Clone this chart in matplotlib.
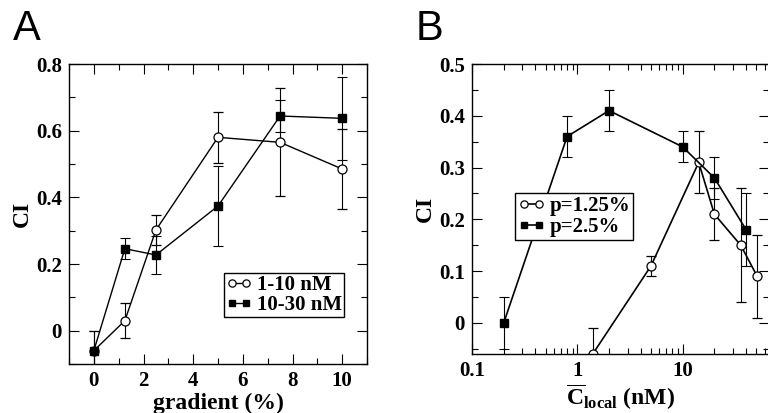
import matplotlib
matplotlib.use("Agg")
import matplotlib.pyplot as plt
from matplotlib.lines import Line2D
from matplotlib.ticker import MultipleLocator, LogLocator, NullFormatter

# panel A data
grad = [0, 1.25, 2.5, 5, 7.5, 10]
ci_low = [-0.06, 0.03, 0.302, 0.58, 0.565, 0.485]
err_low = [0.06, 0.053, 0.045, 0.077, 0.162, 0.12]
ci_high = [-0.06, 0.246, 0.227, 0.374, 0.644, 0.637]
err_high = [0.06, 0.032, 0.056, 0.121, 0.048, 0.124]

# panel B data
c_p125 = [1.4, 5.0, 14.2, 20, 35.6, 51]
ci_p125 = [-0.06, 0.11, 0.31, 0.21, 0.15, 0.09]
err_p125 = [0.05, 0.02, 0.06, 0.05, 0.11, 0.08]
c_p25 = [0.2, 0.8, 2.0, 10, 20, 40]
ci_p25 = [0.0, 0.36, 0.41, 0.34, 0.28, 0.18]
err_p25 = [0.05, 0.04, 0.04, 0.03, 0.04, 0.07]

a_yticks = [0, 0.2, 0.4, 0.6, 0.8]
a_yticklabels = ["0", "0.2", "0.4", "0.6", "0.8"]
b_xticks = [0.1, 1, 10]
b_xticklabels = ["0.1", "1", "10"]
b_yticks = [0, 0.1, 0.2, 0.3, 0.4, 0.5]
b_yticklabels = ["0", "0.1", "0.2", "0.3", "0.4", "0.5"]

plt.rcParams["font.family"] = "Liberation Serif"
plt.rcParams["font.weight"] = "bold"
plt.rcParams["axes.labelweight"] = "bold"
plt.rcParams["font.size"] = 15
plt.rcParams["axes.labelsize"] = 17
plt.rcParams["mathtext.fontset"] = "custom"
plt.rcParams["mathtext.rm"] = "Liberation Serif:bold"
plt.rcParams["mathtext.bf"] = "Liberation Serif:bold"
plt.rcParams["mathtext.it"] = "Liberation Serif:bold"

W, H = 768, 413
fig = plt.figure(figsize=(7.68, 4.13), dpi=100)
axA = fig.add_axes([69 / W, 1 - 364 / H, (367 - 69) / W, (364 - 64) / H])
axB = fig.add_axes([472 / W, 1 - 354 / H, (769 - 472) / W, (354 - 64) / H])

eb = dict(ecolor="black", elinewidth=0.8, capsize=3.3, capthick=0.8)
circ = dict(marker="o", ms=6.5, mfc="white", mec="black", mew=0.9, color="black")
sq = dict(marker="s", ms=5.8, mfc="black", mec="black", color="black")
leg_circ = dict(circ, ms=5.2)
leg_sq = dict(sq, ms=5.0)

# ---- A
axA.errorbar(grad, ci_low, yerr=err_low, lw=1.0, **circ, **eb)
axA.errorbar(grad, ci_high, yerr=err_high, lw=1.0, **sq, **eb)
axA.set_xlim(-1, 11)
axA.set_ylim(-0.1, 0.8)
axA.xaxis.set_major_locator(MultipleLocator(2))
axA.xaxis.set_minor_locator(MultipleLocator(1))
axA.set_yticks(a_yticks, a_yticklabels)
axA.yaxis.set_minor_locator(MultipleLocator(0.1))
axA.set_xlabel("gradient (%)", labelpad=1)
axA.set_ylabel("CI", labelpad=2)
hA = [Line2D([], [], lw=1.0, **leg_circ), Line2D([], [], lw=1.0, **leg_sq)]
axA.legend(hA, ["1-10 nM", "10-30 nM"], loc="lower right", bbox_to_anchor=(0.923, 0.157),
           numpoints=2, frameon=True, fancybox=False, edgecolor="black", framealpha=1,
           handlelength=1.3, handletextpad=0.2, borderpad=0.1, labelspacing=0.0,
           borderaxespad=0)
axA.text(13 / W, 1 - 40 / H, "A", transform=fig.transFigure, fontsize=30,
         family="Liberation Sans", weight="normal")

# ---- B
axB.errorbar(c_p125, ci_p125, yerr=err_p125, lw=1.2, **circ, **eb)
axB.errorbar(c_p25, ci_p25, yerr=err_p25, lw=1.2, **sq, **eb)
axB.set_xscale("log")
axB.set_xlim(0.1, 66)
axB.set_ylim(-0.06, 0.5)
axB.set_xticks(b_xticks, b_xticklabels)
axB.xaxis.set_minor_locator(LogLocator(base=10, subs=range(2, 10)))
axB.xaxis.set_minor_formatter(NullFormatter())
axB.set_yticks(b_yticks, b_yticklabels)
axB.yaxis.set_minor_locator(MultipleLocator(0.05))
axB.set_xlabel(r"$\overline{\mathrm{C}}_{\mathrm{local}}$ (nM)", labelpad=1)
axB.set_ylabel("CI", labelpad=2)
hB = [Line2D([], [], lw=1.2, **leg_circ), Line2D([], [], lw=1.2, **leg_sq)]
axB.legend(hB, ["p=1.25%", "p=2.5%"], loc="upper left", bbox_to_anchor=(0.145, 0.555),
           numpoints=2, frameon=True, fancybox=False, edgecolor="black", framealpha=1,
           handlelength=1.3, handletextpad=0.2, borderpad=0.15, labelspacing=0.05,
           borderaxespad=0)
axB.text(416 / W, 1 - 40 / H, "B", transform=fig.transFigure, fontsize=30,
         family="Liberation Sans", weight="normal")

for ax in (axA, axB):
    ax.tick_params(which="both", direction="in", top=True, right=True, width=0.8)
    ax.tick_params(which="major", length=7, pad=5)
    ax.tick_params(which="minor", length=4)
    for s in ax.spines.values():
        s.set_linewidth(1.0)

fig.savefig("out.png", dpi=100)
